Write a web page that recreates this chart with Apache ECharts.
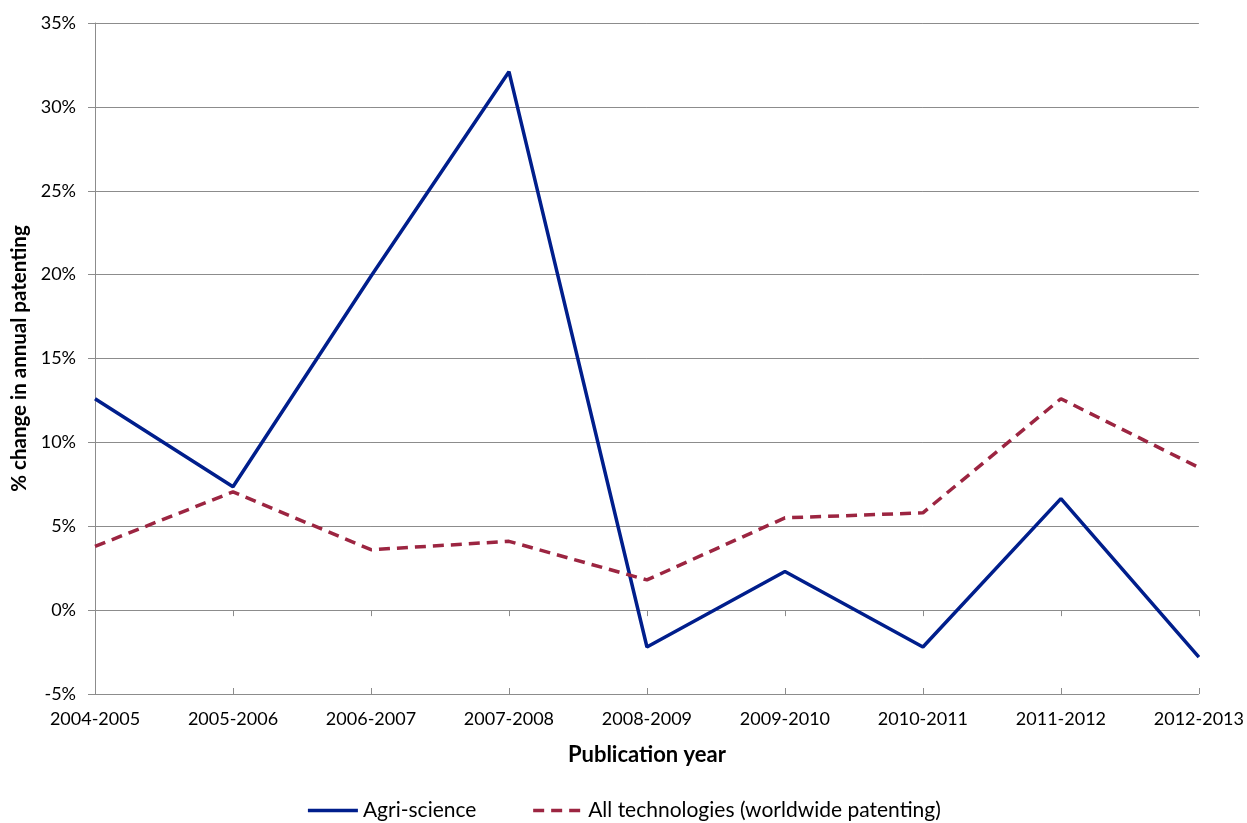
<!DOCTYPE html>
<html>
<head>
    <meta charset="utf-8">
    <title>ECharts</title>
    <script src="https://cdn.jsdelivr.net/npm/echarts@6/dist/echarts.min.js"></script>
</head>
<body style="margin:0;">
    <div id="main" style="width: 1247px;height:823px;"></div>
    <script type="text/javascript">
    // data
    var years = ['2004-2005', '2005-2006', '2006-2007', '2007-2008', '2008-2009',
                 '2009-2010', '2010-2011', '2011-2012', '2012-2013'];
    var agriScience = [12.6, 7.35, 19.9, 32.1, -2.2, 2.3, -2.2, 6.65, -2.8];
    var allTech = [3.8, 7.05, 3.6, 4.1, 1.8, 5.5, 5.8, 12.6, 8.5];

    var chart = echarts.init(document.getElementById('main'));
    var font = 'Lato, "Open Sans", sans-serif';
    var grey = '#8c8c8c';

    var option = {
        animation: false,
        backgroundColor: '#fff',
        textStyle: { fontFamily: font },
        grid: { left: 95, right: 47, top: 23, bottom: 129 },
        legend: {
            bottom: -3,
            left: 'center',
            itemWidth: 50,
            itemGap: 55,
            itemStyle: { opacity: 0 },
            lineStyle: { width: 3.5 },
            textStyle: { fontSize: 21, color: '#000', fontFamily: font },
            data: ['Agri-science', 'All technologies (worldwide patenting)']
        },
        xAxis: [{
            type: 'category',
            data: years,
            boundaryGap: false,
            name: 'Publication year',
            nameLocation: 'middle',
            nameGap: 50,
            nameTextStyle: { fontSize: 22, fontWeight: 'bold', color: '#000' },
            axisLine: { show: false, onZero: false },
            axisTick: { show: false },
            axisLabel: { fontSize: 18, color: '#000', margin: 16 }
        }, {
            // line at zero with ticks pointing down
            type: 'category',
            data: years,
            boundaryGap: false,
            position: 'bottom',
            axisLine: { show: true, onZero: true, lineStyle: { color: grey } },
            axisTick: { show: true, length: 6, lineStyle: { color: grey } },
            axisLabel: { show: false }
        }, {
            // same ticks pointing up
            type: 'category',
            data: years,
            boundaryGap: false,
            position: 'bottom',
            axisLine: { show: false, onZero: true },
            axisTick: { show: true, inside: true, length: 6, lineStyle: { color: grey } },
            axisLabel: { show: false }
        }],
        yAxis: {
            type: 'value',
            min: -5,
            max: 35,
            interval: 5,
            name: '% change in annual patenting',
            nameLocation: 'middle',
            nameGap: 65,
            nameTextStyle: { fontSize: 20.5, fontWeight: 'bold', color: '#000' },
            axisLine: { show: true, lineStyle: { color: grey } },
            axisTick: { show: true, length: 7, lineStyle: { color: grey } },
            axisLabel: { fontSize: 18, color: '#000', margin: 19, formatter: '{value}%' },
            splitLine: { show: true, lineStyle: { color: grey, width: 1 } }
        },
        series: [{
            name: 'Agri-science',
            type: 'line',
            data: agriScience,
            symbol: 'none',
            color: '#001e8c',
            lineStyle: { width: 3.5, color: '#001e8c' }
        }, {
            name: 'All technologies (worldwide patenting)',
            type: 'line',
            data: allTech,
            symbol: 'none',
            color: '#9c2541',
            lineStyle: { width: 3.5, color: '#9c2541', type: [11, 7] }
        }]
    };

    chart.setOption(option);
    </script>
</body>
</html>
